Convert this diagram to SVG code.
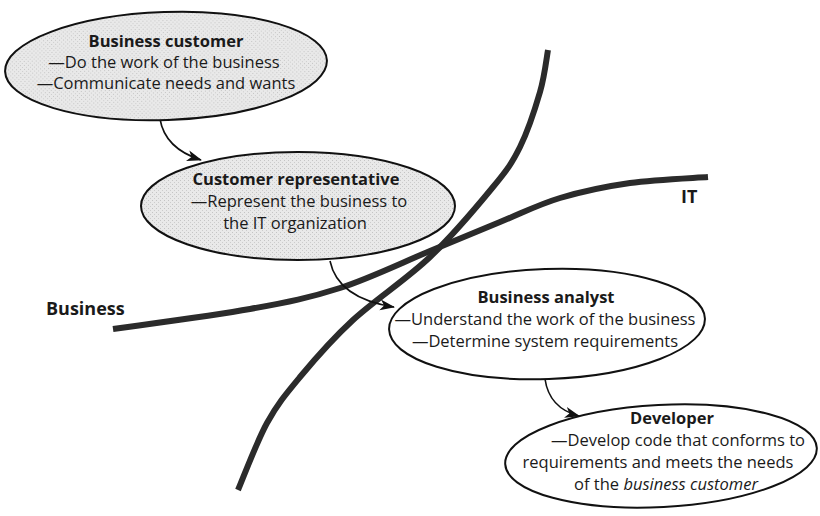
<svg xmlns="http://www.w3.org/2000/svg" width="820" height="516" viewBox="0 0 820 516">
  <style>
    .txt { font-family: "Open Sans", "Noto Sans", sans-serif; font-size: 16.5px; fill: #1a1a1a; text-anchor: middle; }
    .ttl { font-weight: bold; }
    .lbl { font-family: "Open Sans", "Noto Sans", sans-serif; font-size: 18px; font-weight: bold; fill: #1a1a1a; }
    .shaded { fill: url(#halftone); stroke: #111; stroke-width: 2; }
    .plain { fill: #fff; stroke: #111; stroke-width: 2; }
    .boundary { fill: none; stroke: #2b2b2b; stroke-width: 6; stroke-linecap: butt; }
    .flow { fill: none; stroke: #111; stroke-width: 1.6; marker-end: url(#head); }
  </style>
  <defs>
    <!-- light grey screen used for the business-side ovals -->
    <pattern id="halftone" width="4" height="4" patternUnits="userSpaceOnUse">
      <rect width="4" height="4" fill="#e9e9e9"/>
      <rect x="0" y="0" width="1" height="1" fill="#c4c4c4"/>
      <rect x="2" y="2" width="1" height="1" fill="#cccccc"/>
    </pattern>
    <marker id="head" markerWidth="16" markerHeight="12" refX="14" refY="6" orient="auto" markerUnits="userSpaceOnUse">
      <path d="M0,0.5 L15,6 L0,11.5 L4,6 Z" fill="#111"/>
    </marker>
  </defs>

  <rect width="820" height="516" fill="#fff"/>

  <!-- Business / IT boundary curves -->
  <g id="boundaries">
    <path class="boundary" d="M113,329 C135.8,325.7 212.2,315.8 250,309 C287.8,302.2 310,297.7 340,288 C370,278.3 403.3,262 430,251 C456.7,240 478.3,230.8 500,222 C521.7,213.2 538.3,204.5 560,198 C581.7,191.5 605.3,186.5 630,183 C654.7,179.5 695,178 708,177"/>
    <path class="boundary" d="M548,50 C546.7,57 544.7,75.8 540,92 C535.3,108.2 527.8,131.2 520,147 C512.2,162.8 508,168.7 493,187 C478,205.3 453.3,234.8 430,257 C406.7,279.2 374.7,300 353,320 C331.3,340 314.3,359.8 300,377 C285.7,394.2 277.3,404.2 267,423 C256.7,441.8 242.8,478.8 238,490"/>
    <text class="lbl" x="46" y="315">Business</text>
    <text class="lbl" x="681" y="203">IT</text>
  </g>

  <!-- Hand-off arrows -->
  <g id="connectors">
    <path class="flow" d="M160,119 C163,137 176,152 201,160"/>
    <path class="flow" d="M330,261 C335,285 355,301 394,307"/>
    <path class="flow" d="M545,379 C548,400 560,411 579,416"/>
  </g>

  <g id="business-customer">
    <ellipse class="shaded" cx="166" cy="66" rx="161" ry="54" transform="rotate(-2 166 66)"/>
    <text class="txt ttl" x="166" y="47">Business customer</text>
    <text class="txt" x="164" y="68">—Do the work of the business</text>
    <text class="txt" x="166" y="89">—Communicate needs and wants</text>
  </g>

  <g id="customer-representative">
    <ellipse class="shaded" cx="298" cy="206" rx="157" ry="54"/>
    <text class="txt ttl" x="296" y="185">Customer representative</text>
    <text class="txt" x="299" y="207">—Represent the business to</text>
    <text class="txt" x="295" y="229">the IT organization</text>
  </g>

  <g id="business-analyst">
    <ellipse class="plain" cx="547" cy="324" rx="158" ry="55" transform="rotate(-2 547 324)"/>
    <text class="txt ttl" x="546" y="303">Business analyst</text>
    <text class="txt" x="545" y="325">—Understand the work of the business</text>
    <text class="txt" x="545" y="347">—Determine system requirements</text>
  </g>

  <g id="developer">
    <ellipse class="plain" cx="661" cy="456" rx="156" ry="51" transform="rotate(-3 661 456)"/>
    <text class="txt ttl" x="672" y="424">Developer</text>
    <text class="txt" x="678" y="446">—Develop code that conforms to</text>
    <text class="txt" x="658" y="468">requirements and meets the needs</text>
    <text class="txt" x="666" y="490">of the <tspan font-style="italic">business customer</tspan></text>
  </g>
</svg>
